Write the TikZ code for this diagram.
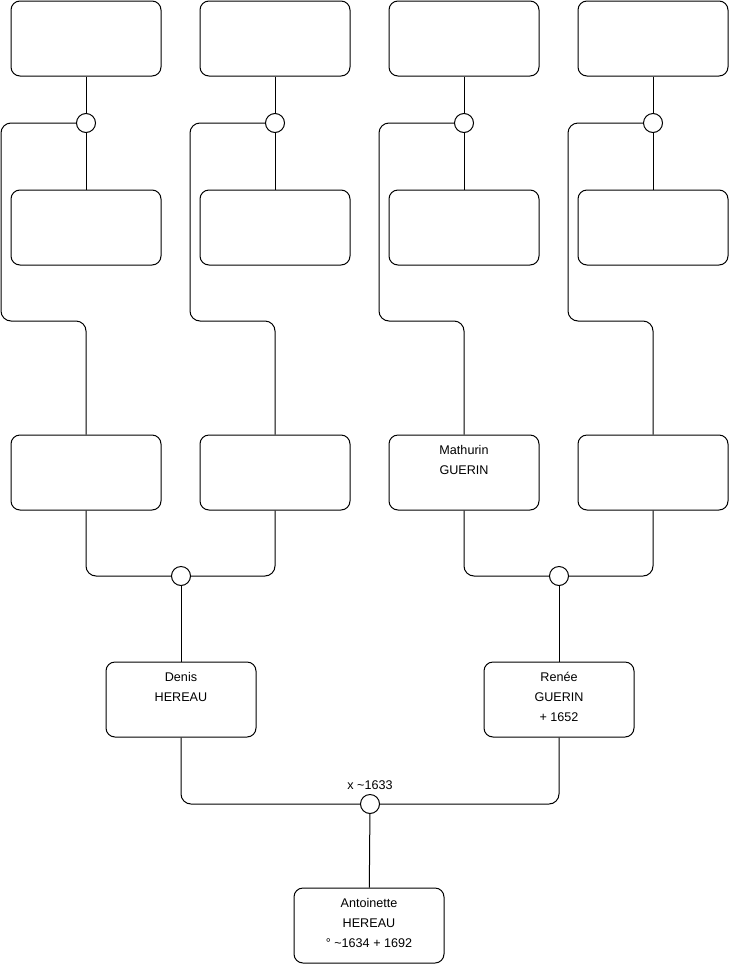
\documentclass[tikz,border=0pt]{standalone}
\usepackage{fontspec}
\setmainfont{Liberation Sans}
\usetikzlibrary{positioning,calc}
\definecolor{lnInk}{HTML}{000000}
\newcommand{\ppl}{\fontsize{12.6}{20}\selectfont}
\tikzset{
  pers/.style={draw=lnInk, rounded corners=9pt, minimum width=150pt, minimum height=75pt, inner sep=0pt},
  who/.style={label={[anchor=north, align=center, font=\ppl, inner sep=0pt, yshift=-10.6pt]north:{#1}}},
  knot/.style={circle, draw=lnInk, fill=white, minimum size=19pt, inner sep=0pt},
  link/.style={draw=lnInk, line width=1pt, rounded corners=10pt},
}
\begin{document}
\begin{tikzpicture}[x=1pt, y=-1pt, line width=1pt]
  \useasboundingbox (0,0) rectangle (740,975);
  % great-grandparents
  \foreach \i/\x in {1/86,2/275,3/464,4/653} {
    \node[pers] (p\i) at (\x,38.5) {};
    \node[knot] (u\i) at (\x,123) {};
    \node[pers] (q\i) at (\x,227.5) {};
  }
  % grandparents
  \node[pers] (g1) at (86,472.5) {};
  \node[pers] (g2) at (275,472.5) {};
  \node[pers, who={Mathurin\\GUERIN}] (g3) at (464,472.5) {};
  \node[pers] (g4) at (653,472.5) {};
  \node[knot] (v1) at (181,576) {};
  \node[knot] (v2) at (559,576) {};
  % parents
  \node[pers, who={Denis\\HEREAU}] (den) at (181,699.5) {};
  \node[pers, who={Ren\'ee\\GUERIN\\+ 1652}] (ren) at (559,699.5) {};
  \node[knot, label={[font=\ppl, inner sep=0pt, label distance=4pt]above:x \textasciitilde1633}] (w) at (370,804) {};
  \node[pers, who={Antoinette\\HEREAU\\° \textasciitilde1634 + 1692}] (ant) at (369,925.5) {};
  % connectors
  \foreach \i in {1,...,4} {
    \draw[link] (p\i) -- (u\i);
    \draw[link] (u\i) -- (q\i);
    \draw[link] (u\i.west) -| ++(-75,198) -| (g\i.north);
  }
  \draw[link] (g1.south) |- (v1.west);
  \draw[link] (g2.south) |- (v1.east);
  \draw[link] (g3.south) |- (v2.west);
  \draw[link] (g4.south) |- (v2.east);
  \draw[link] (v1) -- (den);
  \draw[link] (v2) -- (ren);
  \draw[link] (den.south) |- (w.west);
  \draw[link] (ren.south) |- (w.east);
  \draw[link] (w) -- (ant);
\end{tikzpicture}
\end{document}
